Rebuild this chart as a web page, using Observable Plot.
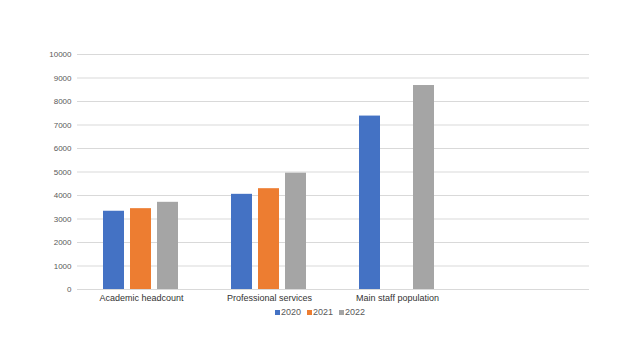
<!DOCTYPE html>
<html>
<head>
<meta charset="utf-8">
<script src="https://cdn.jsdelivr.net/npm/d3@7"></script>
<script src="https://cdn.jsdelivr.net/npm/@observablehq/plot@0.6"></script>
<style>
  html, body { margin: 0; padding: 0; background: #fff; }
  #wrap { position: relative; width: 640px; height: 360px; font-family: "Liberation Sans", Arial, sans-serif; }
  #legend { position: absolute; left: 0; width: 640px; top: 306px; height: 12px; display: flex; justify-content: center; align-items: center; font-size: 9px; color: #595959; line-height: 12px; }
  #legend .item { display: flex; align-items: center; margin: 0 3px; }
  #legend .sw { display: inline-block; width: 5px; height: 5px; margin-right: 1px; }
</style>
</head>
<body>
<div id="wrap"><div id="chart"></div><div id="legend"></div></div>
<script>
const categories = ["Academic headcount", "Professional services", "Main staff population", ""];
const years = ["2020", "2021", "2022"];
const values2020 = [3330, 4050, 7380, null];
const values2021 = [3440, 4290, null, null];
const values2022 = [3710, 4950, 8680, null];
const yTicks = [0, 1000, 2000, 3000, 4000, 5000, 6000, 7000, 8000, 9000, 10000];
const colors = ["#4472C4", "#ED7D31", "#A5A5A5"];

const series = [values2020, values2021, values2022];
const rows = [];
categories.forEach((c, i) => {
  series.forEach((arr, j) => {
    rows.push({category: c, year: years[j], value: arr[i]});
  });
});

const chart = Plot.plot({
  width: 640,
  height: 305,
  marginTop: 54,
  marginBottom: 16,
  marginLeft: 75,
  marginRight: 50,
  style: {fontFamily: "'Liberation Sans', Arial, sans-serif", fontSize: "8px", color: "#595959", background: "#fff"},
  y: {domain: [0, 10000]},
  fx: {domain: categories, padding: 0},
  x: {domain: years, paddingInner: 0.21, paddingOuter: 0.904, axis: null},
  color: {domain: years, range: colors},
  marks: [
    Plot.ruleY(yTicks, {stroke: "#D9D9D9", strokeWidth: 1}),
    Plot.axisY(yTicks, {tickSize: 0, tickPadding: 6, label: null, fill: "#595959", fontSize: 8, tickFormat: d => String(d)}),
    Plot.axisFx({tickSize: 0, tickPadding: 5, label: null, fill: "#333333", fontSize: 9, anchor: "bottom"}),
    Plot.barY(rows, {fx: "category", x: "year", y: "value", fill: "year"})
  ]
});
document.getElementById("chart").appendChild(chart);

const legend = document.getElementById("legend");
years.forEach((y, i) => {
  const item = document.createElement("span");
  item.className = "item";
  const sw = document.createElement("span");
  sw.className = "sw";
  sw.style.background = colors[i];
  const t = document.createElement("span");
  t.textContent = y;
  item.appendChild(sw);
  item.appendChild(t);
  legend.appendChild(item);
});
</script>
</body>
</html>
